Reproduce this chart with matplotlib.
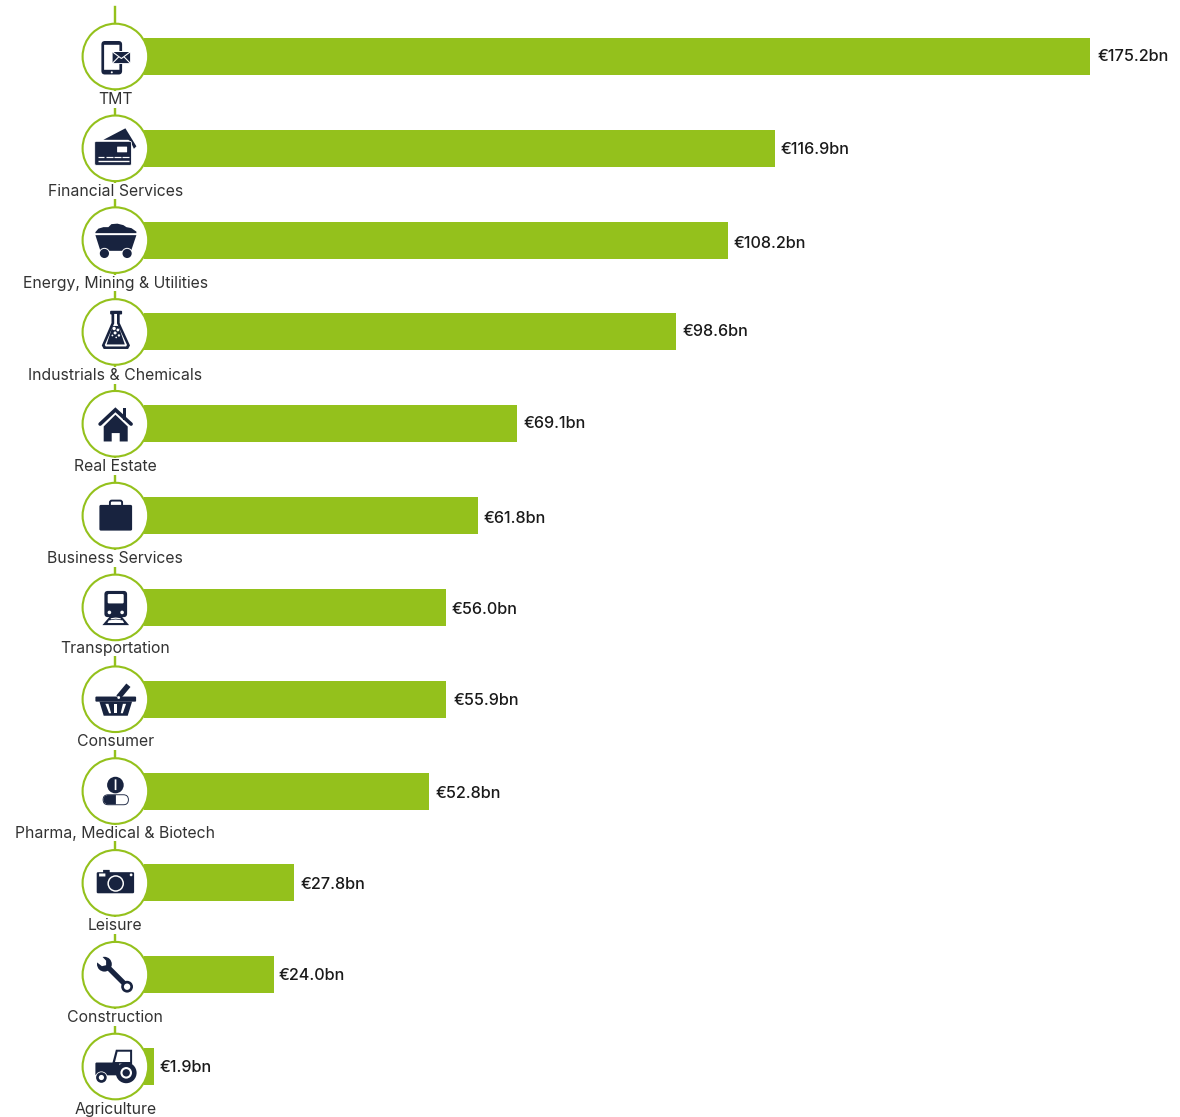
import matplotlib
matplotlib.use("Agg")
import matplotlib.pyplot as plt
from matplotlib.patches import Circle, Polygon, FancyBboxPatch
from matplotlib.lines import Line2D
from matplotlib.transforms import Affine2D

sectors = ["TMT", "Financial Services", "Energy, Mining & Utilities", "Industrials & Chemicals",
           "Real Estate", "Business Services", "Transportation", "Consumer",
           "Pharma, Medical & Biotech", "Leisure", "Construction", "Agriculture"]
values = [175.2, 116.9, 108.2, 98.6, 69.1, 61.8, 56.0, 55.9, 52.8, 27.8, 24.0, 1.9]
value_labels = ["€175.2bn", "€116.9bn", "€108.2bn", "€98.6bn", "€69.1bn", "€61.8bn",
                "€56.0bn", "€55.9bn", "€52.8bn", "€27.8bn", "€24.0bn", "€1.9bn"]

GREEN = "#94c11c"
NAVY = "#18233f"
PX = 0.72  # points per pixel at 100 dpi

plt.rcParams["font.family"] = ["Inter", "DejaVu Sans"]

fig = plt.figure(figsize=(11.8, 11.17), dpi=100)
ax = fig.add_axes([0, 0, 1, 1])
ax.set_xlim(-144 / 5.4, (1180 - 144) / 5.4)
ax.set_ylim((1117 - 56.5) / 91.82, -56.5 / 91.82)
ax.axis("off")

rows = list(range(len(sectors)))
ax.barh(rows, values, height=37 / 91.82, color=GREEN, zorder=1)

HUB = (115.4 - 144) / 5.4  # horizontal position of the icon column

# spine linking the icons
ax.add_line(Line2D([HUB, HUB], [-49.5 / 91.82, rows[-1]], color=GREEN, lw=2.4 * PX, zorder=2))


def icon_tools(t):
    """Small drawing helpers working in pixels around an icon centre, y pointing down."""
    z = 5

    def rr(x0, y0, x1, y1, r, c=NAVY, ec="none", lw=0, zo=0):
        ax.add_patch(FancyBboxPatch((x0 + r, y0 + r), x1 - x0 - 2 * r, y1 - y0 - 2 * r,
                                    boxstyle=f"round,pad={r},rounding_size={r}", fc=c, ec=ec,
                                    lw=lw * PX, transform=t, zorder=z + zo, clip_on=False))

    def pg(pts, c=NAVY, zo=0):
        ax.add_patch(Polygon(pts, closed=True, fc=c, ec="none", transform=t, zorder=z + zo, clip_on=False))

    def ci(x, y, r, c=NAVY, zo=0):
        ax.add_patch(Circle((x, y), r, fc=c, ec="none", transform=t, zorder=z + zo, clip_on=False))

    def ln(xs, ys, w, c=NAVY, zo=0, cap="butt"):
        ax.add_line(Line2D(xs, ys, color=c, lw=w * PX, transform=t, zorder=z + zo,
                           solid_capstyle=cap, solid_joinstyle="miter", clip_on=False))
    return rr, pg, ci, ln


def phone(t):
    rr, pg, ci, ln = icon_tools(t)
    rr(-14, -15.5, 6.7, 18, 3.5)
    rr(-11.3, -11.7, 4, 13.3, 0, "white", zo=.1)
    ci(-3.6, 15.8, 1, "white", .1)
    rr(-4, -5.5, 15.7, 7.5, 0.8, "white", zo=.2)
    rr(-2.8, -4.5, 14.7, 6.6, 0.6, zo=.3)
    ln([-2.8, 6, 14.7], [-4.5, 2, -4.5], 1.1, "white", .4)
    ln([-2.8, 3.4], [6.6, 0.3], 1.1, "white", .4)
    ln([14.7, 8.6], [6.6, 0.3], 1.1, "white", .4)


def card(t):
    rr, pg, ci, ln = icon_tools(t)
    pg([(-12, -8.5), (10, -20), (21, -2), (18.5, 0.5), (15, -7), (13, -8.5)])
    rr(-20.7, -7, 16, 17, 1.5, ec="white", lw=0.8, zo=.1)
    rr(1.7, -1.7, 11.7, 4, 0.5, "white", zo=.2)
    for x0 in (-17.5, -9.3, -1, 7):
        ln([x0, x0 + 6.5], [9, 9], 1.2, "white", .2)
    ln([-17.5, 13.5], [12.7, 12.7], 1.4, "white", .2)


def coal_cart(t):
    rr, pg, ci, ln = icon_tools(t)
    pg([(-20, -8), (-17, -11.5), (-12, -13), (-7, -13), (-4, -16), (2, -16.5), (8, -15), (11, -13),
        (16, -12), (21, -8.5), (21, -7), (-20, -7)])
    pg([(-20, -5), (21, -5), (15.7, 10.7), (-15, 10.7)])
    for x in (-11, 11.7):
        ci(x, 13.3, 5.6, "white", .1)
        ci(x, 13.3, 4.6, NAVY, .2)


def flask(t):
    rr, pg, ci, ln = icon_tools(t)
    rr(-5.3, -21.2, 6.7, -17.5, 1)
    pg([(-3.9, -18), (4.3, -18), (4.3, -9), (14.6, 13.5), (12.7, 17), (-11.7, 17), (-13.6, 13.5), (-3.9, -9)])
    pg([(-1.2, -18), (1.6, -18), (1.6, -8.5), (11.6, 13), (10.7, 14.5), (-9.7, 14.5), (-10.6, 13), (-1.2, -8.5)], "white", .1)
    pg([(-2.8, -6), (3.2, -6), (9.4, 12.5), (-8.8, 12.5)], NAVY, .2)
    for x, y, r in ((-1.3, -3.5, 1.7), (2.5, -2, 1.4), (-0.3, 1, 1.5), (3.5, 3.5, 1.2), (-3, 3.5, .9), (0.8, 5.5, .8)):
        ci(x, y, r, "white", .3)


def house(t):
    rr, pg, ci, ln = icon_tools(t)
    pg([(7.3, -15.6), (11, -15.6), (11, -4), (7.3, -4)])
    ln([-15.3, 0, 15.7], [0.3, -14, 0.3], 3.6, cap="round")
    pg([(-11.7, 2.7), (0, -9), (12.3, 2.7), (12.3, 17.7), (4.3, 17.7), (4.3, 9.3), (-3.7, 9.3), (-3.7, 17.7), (-11.7, 17.7)])


def briefcase(t):
    rr, pg, ci, ln = icon_tools(t)
    rr(-16, -10.7, 16.7, 15, 1.5)
    rr(-5.5, -15, 6.7, -8, 2, "none", ec=NAVY, lw=1.9, zo=.1)


def train(t):
    rr, pg, ci, ln = icon_tools(t)
    rr(-11, -16.5, 11.7, 9.7, 3.4)
    rr(-7.7, -13.4, 8.3, -4, 1.2, "white", zo=.1)
    ci(-6, 5, 1.8, "white", .2)
    ci(6.7, 5, 1.8, "white", .2)
    pg([(-6, 9.5), (-13, 17.7), (13.7, 17.7), (6.7, 9.5)], NAVY, .1)
    pg([(-6.6, 13), (-8, 15.6), (8.7, 15.6), (7.3, 13), (0.3, 12)], "white", .3)
    ln([-4.6, 0.3, 5.3], [11.4, 10.7, 11.4], 1.2, "white", .3)


def basket(t):
    rr, pg, ci, ln = icon_tools(t)
    rr(-20, -2.7, 20.7, 2.4, 1)
    pg([(-16, 2.3), (16.7, 2.3), (12.3, 16.5), (-11.7, 16.5)])
    ln([3, 13], [-2, -14], 5.4, zo=.1)
    ci(3.3, -1.7, 1.4, "white", .2)
    for a, b, c, d in ((-10, -7, -6.3, -4.3), (-1.7, 1.3, -1.2, 1.3), (7.5, 10.7, 5.3, 7.4)):
        pg([(a, 4.6), (b, 4.6), (d, 14), (c, 14)], "white", .2)


def pills(t):
    rr, pg, ci, ln = icon_tools(t)
    ci(0, -6, 8.3)
    rr(-0.7, -11.7, 1, -1, 0.3, "white", zo=.1)
    rr(-12.3, 3.7, 13, 13.7, 5, "white", ec=NAVY, lw=0.9, zo=.2)
    pg([(-8, 4), (0.5, 4), (0.5, 13.4), (-8, 13.4), (-11, 12), (-12, 8.7), (-11, 5.3)], NAVY, .3)


def camera(t):
    rr, pg, ci, ln = icon_tools(t)
    rr(-18.7, -10.7, 18.7, 10.4, 1.3)
    rr(-12.3, -13, -5.7, -9.7, 0.4)
    ci(0.3, 0.6, 8.3, "white", .1)
    ci(0.3, 0.6, 6.8, NAVY, .2)
    rr(-16.3, -9.4, -10, -6.4, 0.2, "white", zo=.1)
    ci(15.7, -8, 1.4, "white", .1)


def wrench(t):
    rr, pg, ci, ln = icon_tools(t)
    ln([-10, 11.5], [-10, 11.5], 5.2)
    ci(-11, -10.5, 7.4)
    pg([(-20.5, -14), (-15, -20), (-9.3, -14), (-9.3, -9.5), (-13.5, -8.5)], "white", .1)
    ci(11.7, 12, 5.9, NAVY, .1)
    ci(11.7, 12, 3.2, "white", .2)


def tractor(t):
    rr, pg, ci, ln = icon_tools(t)
    rr(-20, -4, 4, 8.8, 1.2)
    pg([(-3, -3.5), (0.5, -16.8), (16.7, -16.8), (16.7, -2)])
    pg([(-0.4, -4.5), (2.2, -14.8), (14.7, -14.8), (14.7, -4.5)], "white", .1)
    ci(10.8, 6.3, 10.4, NAVY, .3)
    ci(10.8, 6.3, 5.8, "white", .4)
    ci(10.8, 6.3, 3.7, NAVY, .5)
    ci(-14, 11, 6.1, "white", .2)
    ci(-14, 11, 5.3, NAVY, .3)
    ci(-14, 11, 2.6, "white", .4)


icons = [phone, card, coal_cart, flask, house, briefcase, train, basket, pills, camera, wrench, tractor]

# small per-row nudges of the value labels, in pixels
gaps = [7, 5, 5, 6, 6, 6, 5.5, 8, 6, 6.5, 4.5, 5]
lifts = [0, -1, -3.5, 0, 0.5, -2.5, -2.5, -1.5, -2, -1.5, -0.5, -0.5]
name_drop = [43, 42.7, 42.9, 43.5, 42.7, 42.9, 40.6, 42.3, 42, 42.6, 42.8, 42.5]

for i in rows:
    cx, cy = ax.transData.transform((HUB, i))
    # icon geometry is in pixels; flip y so that it runs downward from the centre
    t = Affine2D().scale(1, -1).translate(cx, cy)
    ax.add_patch(Circle((0, 0), 32.8, fc="white", ec=GREEN, lw=2.1 * PX, transform=t, zorder=4, clip_on=False))
    icons[i](t)
    ax.annotate(sectors[i], xy=(HUB, i), xytext=(0, -name_drop[i] * PX), textcoords="offset points",
                ha="center", va="center", fontsize=15.8 * PX, color="#333333", zorder=3,
                bbox=dict(fc="white", ec="none", pad=0.6))
    ax.annotate(value_labels[i], xy=(values[i], i), xytext=(gaps[i] * PX, lifts[i] * PX), textcoords="offset points",
                ha="left", va="center", fontsize=16.2 * PX, fontweight="medium", color="#1a1a1a", zorder=6)

fig.savefig("out.png", dpi=100, facecolor="white")
